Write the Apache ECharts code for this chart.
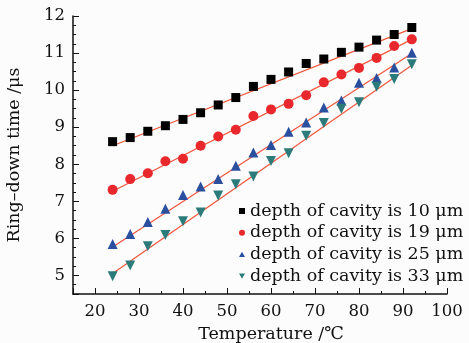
<!DOCTYPE html>
<html>
<head>
<meta charset="utf-8">
<script src="https://cdn.jsdelivr.net/npm/echarts@6/dist/echarts.min.js"></script>
<style>
html,body{margin:0;padding:0;background:#fcfcfc;}
#main{width:469px;height:343px;}
</style>
</head>
<body>
<div id="main"></div>
<script>
// temperature points (℃)
var temps = [24,28,32,36,40,44,48,52,56,60,64,68,72,76,80,84,88,92];
// ring-down time (μs)
var depth10 = [8.61,8.72,8.89,9.04,9.21,9.39,9.60,9.80,10.10,10.29,10.49,10.72,10.84,11.02,11.16,11.35,11.50,11.69];
var depth19 = [7.31,7.60,7.76,8.08,8.15,8.50,8.75,8.93,9.30,9.48,9.63,9.86,10.21,10.42,10.60,10.87,11.19,11.37];
var depth25 = [5.85,6.12,6.44,6.80,7.17,7.40,7.60,7.96,8.32,8.52,8.88,9.13,9.53,9.72,10.20,10.33,10.61,11.01];
var depth33 = [4.98,5.27,5.79,6.09,6.46,6.70,7.16,7.46,7.67,8.09,8.30,8.77,9.11,9.50,9.67,10.09,10.30,10.70];
// fitted lines, end points at 24 and 92 ℃
var fitX = [24,92];
var fit10 = [8.50,11.66];
var fit19 = [7.27,11.37];
var fit25 = [5.77,10.99];
var fit33 = [5.05,10.67];

var names = ['depth of cavity is 10 μm','depth of cavity is 19 μm','depth of cavity is 25 μm','depth of cavity is 33 μm'];
var colors = ['#000000','#e8282c','#2b4f9f','#2a7b79'];
var symbols = ['rect','circle','triangle','path://M0,0 L10,0 L5,9 Z'];
// smaller icons in the legend
var legendIcons = ['path://M0,0 L10,0 L10,10 L0,10 Z','path://M0,5 A5,5 0 1,0 10,5 A5,5 0 1,0 0,5 Z','path://M5,0 L10,9 L0,9 Z','path://M0,0 L10,0 L5,9 Z'];
var sizes = [9,10,10,10];
var pts = [depth10,depth19,depth25,depth33];
var fits = [fit10,fit19,fit25,fit33];

function pairs(xs,ys){
	var out = [];
	for(var i=0;i<xs.length;i++){ out.push([xs[i],ys[i]]); }
	return out;
}

var serif = 'DejaVu Serif';
var series = [];
for(var k=0;k<4;k++){
	series.push({
		type:'line',
		data:pairs(fitX,fits[k]),
		symbol:'none',
		silent:true,
		lineStyle:{color:'#f0553a',width:1.2},
		z:1
	});
}
for(var k=0;k<4;k++){
	series.push({
		name:names[k],
		type:'scatter',
		data:pairs(temps,pts[k]),
		symbol:symbols[k],
		symbolSize:sizes[k],
		itemStyle:{color:colors[k],opacity:1},
		z:3
	});
}

var chart = echarts.init(document.getElementById('main'));
chart.setOption({
	backgroundColor:'#fcfcfc',
	animation:false,
	grid:{left:73,right:22,top:16,bottom:49,outerBoundsMode:'none',containLabel:false},
	legend:{
		orient:'vertical',
		left:234,
		top:196,
		itemWidth:6,
		itemHeight:6,
		itemGap:1.7,
		data:names.map(function(n,i){ return {name:n,icon:legendIcons[i]}; }),
		textStyle:{fontFamily:serif,fontSize:17.5,color:'#111',lineHeight:20}
	},
	xAxis:{
		type:'value',
		min:15,max:100,splitNumber:8,
		name:'Temperature /℃',
		nameLocation:'middle',
		nameGap:31,
		nameTextStyle:{fontFamily:serif,fontSize:17.5,color:'#111',padding:[0,0,0,22]},
		axisLine:{show:true,lineStyle:{color:'#111',width:1.5}},
		axisTick:{show:true,inside:true,length:6,lineStyle:{color:'#111'}},
		minorTick:{show:true,splitNumber:2,length:3,lineStyle:{color:'#111'}},
		axisLabel:{showMinLabel:false,fontFamily:serif,fontSize:16.5,color:'#111',margin:9},
		splitLine:{show:false}
	},
	yAxis:{
		type:'value',
		min:4.5,max:12,splitNumber:8,
		name:'Ring–down time /μs',
		nameLocation:'middle',
		nameGap:50,
		nameTextStyle:{fontFamily:serif,fontSize:17.5,color:'#111'},
		axisLine:{show:true,lineStyle:{color:'#111',width:1.5}},
		axisTick:{show:true,inside:true,length:6,lineStyle:{color:'#111'}},
		minorTick:{show:true,splitNumber:4,length:3,lineStyle:{color:'#111'}},
		axisLabel:{showMinLabel:false,fontFamily:serif,fontSize:16.5,color:'#111',margin:8},
		splitLine:{show:false}
	},
	series:series
});
</script>
</body>
</html>
